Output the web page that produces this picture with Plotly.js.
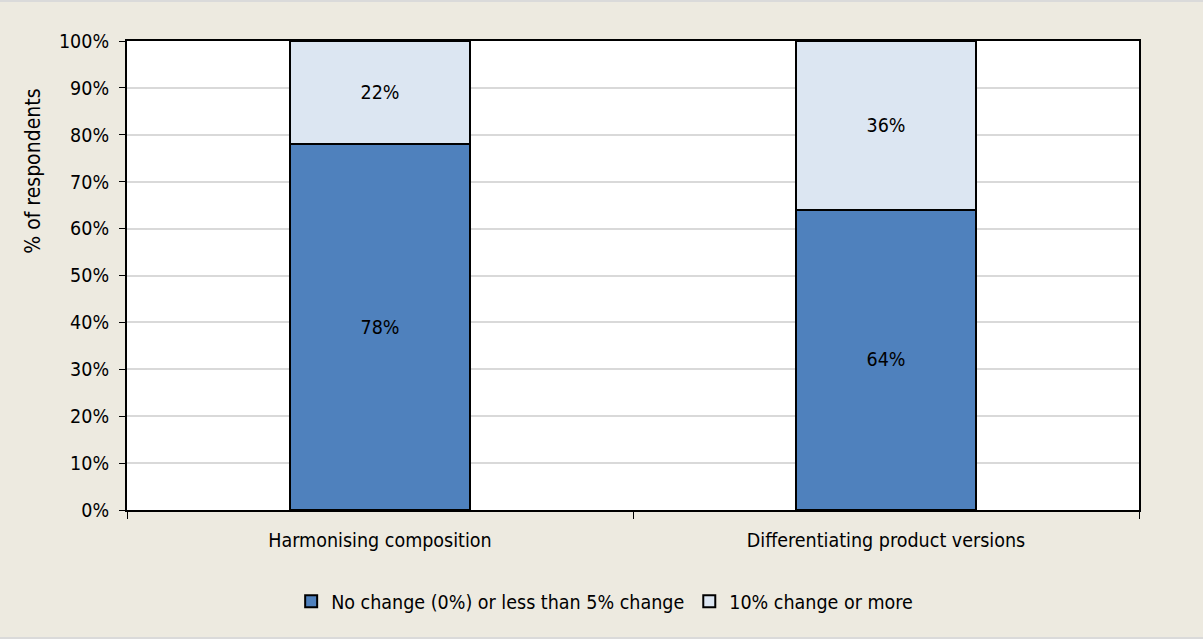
<!DOCTYPE html>
<html>
<head>
<meta charset="utf-8">
<script src="https://cdn.plot.ly/plotly-3.0.1.min.js"></script>
<style>
  html, body { margin: 0; padding: 0; background: #EDEAE0; }
  #chart { width: 1203px; height: 635px; border-top: 2px solid #DADADA; border-bottom: 2px solid #DADADA; }
</style>
</head>
<body>
<div id="chart"></div>
<script>
// Share of respondents by expected change, per approach
const categories = ["Harmonising composition", "Differentiating product versions"];
const noChange = [78, 64];       // No change (0%) or less than 5% change
const tenOrMore = [22, 36];      // 10% change or more
const seriesNames = ["No change (0%) or less than 5% change", "10% change or more"];
const yTicks = [0, 10, 20, 30, 40, 50, 60, 70, 80, 90, 100];
const yTitle = "% of respondents";

const FONT = "DejaVu Sans Condensed, DejaVu Sans, sans-serif";
const FS = 19.5;

function barTrace(values, name, color) {
  return {
    type: "bar",
    x: categories,
    y: values,
    name: name,
    text: values.map(v => v + "%"),
    textposition: "inside",
    insidetextanchor: "middle",
    textangle: 0,
    textfont: { family: FONT, size: FS, color: "#000" },
    marker: { color: color, line: { color: "#000", width: 2 } },
    hoverinfo: "skip"
  };
}

const data = [
  barTrace(noChange, seriesNames[0], "#4F81BD"),
  barTrace(tenOrMore, seriesNames[1], "#DCE6F2")
];

const layout = {
  width: 1203,
  height: 635,
  barmode: "stack",
  bargap: 0.645,
  paper_bgcolor: "#EDEAE0",
  plot_bgcolor: "#FFFFFF",
  margin: { l: 127, r: 64, t: 39, b: 127 },
  font: { family: FONT, size: FS, color: "#000" },
  showlegend: true,
  legend: {
    orientation: "h",
    x: 0.472, xanchor: "center",
    y: -0.195, yanchor: "middle",
    font: { family: FONT, size: FS },
    bgcolor: "rgba(0,0,0,0)",
    itemwidth: 30,
    traceorder: "normal"
  },
  xaxis: {
    type: "category",
    showline: true, linecolor: "#000", linewidth: 2, mirror: true,
    ticks: "outside", tickson: "boundaries", ticklen: 7, tickcolor: "#000", tickwidth: 1,
    ticklabelstandoff: 12,
    tickfont: { family: FONT, size: FS },
    showgrid: false
  },
  yaxis: {
    range: [0, 100],
    tickvals: yTicks,
    ticktext: yTicks.map(v => v + "%"),
    ticks: "outside", ticklen: 6, tickcolor: "#000", tickwidth: 1,
    ticklabelstandoff: 6,
    showline: true, linecolor: "#000", linewidth: 2, mirror: true,
    gridcolor: "#D9D9D9", gridwidth: 2,
    zeroline: false,
    tickfont: { family: FONT, size: FS }
  },
  // axis title placed toward the upper part of the y axis
  annotations: [{
    text: yTitle,
    xref: "paper", yref: "paper",
    x: -0.093, y: 0.723,
    xanchor: "center", yanchor: "middle",
    textangle: -90,
    showarrow: false,
    font: { family: FONT, size: 21, color: "#000" }
  }]
};

Plotly.newPlot("chart", data, layout, { displayModeBar: false, staticPlot: true });
</script>
</body>
</html>
